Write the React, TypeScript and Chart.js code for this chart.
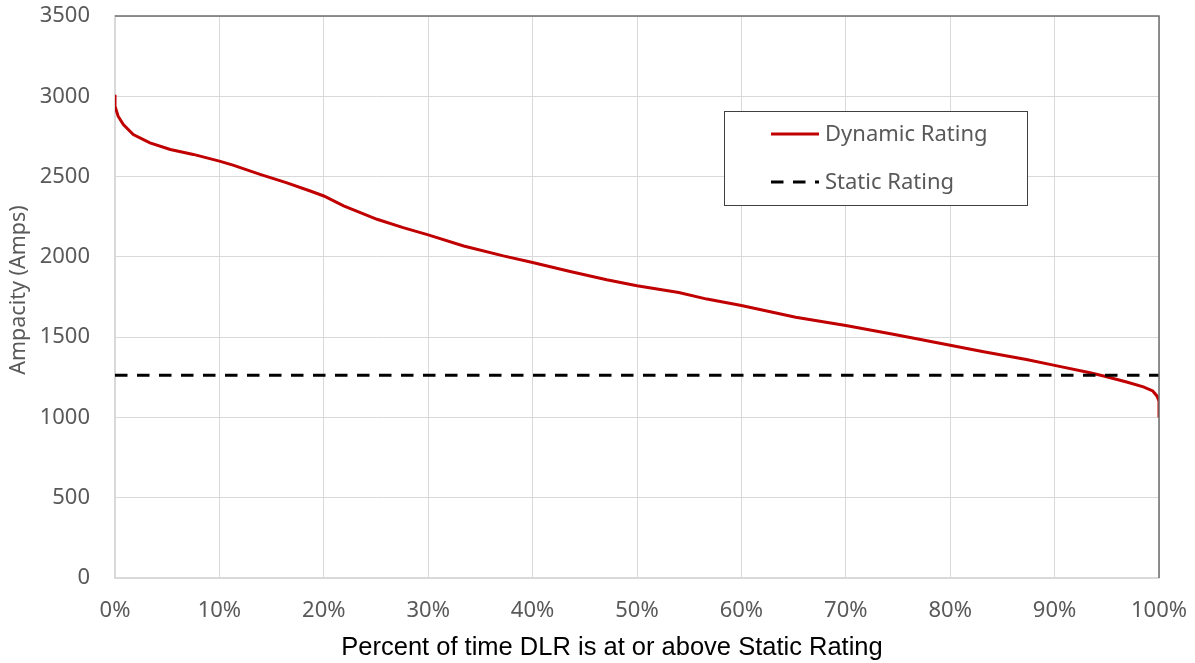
import React, { useEffect, useRef } from "react";
import { Chart, registerables } from "chart.js";

Chart.register(...registerables);

const percentTime = [0, 0, 0.3, 0.8, 1.75, 3.35, 5.3, 7.5, 10, 11.3, 13.9, 16.4, 18.7, 20, 21.9, 25.1, 27.6, 30, 33.4, 37.2, 40, 43.6, 47.1, 50, 54, 56.7, 60, 65.2, 70, 74.8, 80, 83.2, 87.3, 90, 93.4, 94.7, 96.9, 98.5, 99.4, 99.8, 100, 100];
const dynamicAmps = [3010, 2938, 2876, 2824, 2762, 2710, 2669, 2638, 2596, 2571, 2514, 2462, 2410, 2379, 2317, 2234, 2182, 2137, 2068, 2006, 1965, 1909, 1857, 1820, 1778, 1737, 1697, 1624, 1573, 1515, 1450, 1409, 1361, 1324, 1278, 1258, 1221, 1190, 1165, 1134, 1103, 1000];
const staticPercent = [0, 100];
const staticAmps = [1262, 1262];
const seriesNames = ["Dynamic Rating", "Static Rating"];
const xTitle = "Percent of time DLR is at or above Static Rating";
const yTitle = "Ampacity (Amps)";

const RED = "#C00000";
const TICK = "#595959";
const GRID = "#d9d9d9";

const framePlugin = {
  id: "frameAndLegend",
  afterDatasetsDraw(chart: any) {
    const { ctx, chartArea } = chart;
    const { left, right, top, bottom } = chartArea;
    ctx.save();
    // top and right border
    ctx.strokeStyle = "#6e6e6e";
    ctx.lineWidth = 1.5;
    ctx.setLineDash([]);
    ctx.beginPath();
    ctx.moveTo(left, top);
    ctx.lineTo(right, top);
    ctx.lineTo(right, bottom);
    ctx.stroke();

    // legend box
    const bx = 724, by = 111, bw = 303, bh = 94;
    ctx.fillStyle = "#ffffff";
    ctx.fillRect(bx, by, bw, bh);
    ctx.strokeStyle = "#404040";
    ctx.lineWidth = 1;
    ctx.strokeRect(bx + 0.5, by + 0.5, bw, bh);

    const y1 = 134, y2 = 182;
    ctx.lineWidth = 3;
    ctx.strokeStyle = RED;
    ctx.beginPath();
    ctx.moveTo(771, y1);
    ctx.lineTo(819, y1);
    ctx.stroke();

    ctx.strokeStyle = "#000000";
    ctx.setLineDash([12.5, 9.5]);
    ctx.beginPath();
    ctx.moveTo(771, y2);
    ctx.lineTo(819, y2);
    ctx.stroke();
    ctx.setLineDash([]);

    ctx.fillStyle = TICK;
    ctx.font = '22px "Noto Sans"';
    ctx.textBaseline = "middle";
    ctx.textAlign = "left";
    ctx.fillText(seriesNames[0], 825, y1 + 1);
    ctx.fillText(seriesNames[1], 825, y2 + 1);

    // x-axis title
    ctx.fillStyle = "#000000";
    ctx.font = '25.5px "Liberation Sans"';
    ctx.textAlign = "center";
    ctx.fillText(xTitle, 612, 648);

    // y-axis title
    ctx.fillStyle = TICK;
    ctx.font = '21.5px "Noto Sans"';
    ctx.translate(19, 290);
    ctx.rotate(-Math.PI / 2);
    ctx.fillText(yTitle, 0, 0);
    ctx.restore();
  },
};

export default function App() {
  const ref = useRef<HTMLCanvasElement | null>(null);

  useEffect(() => {
    document.body.style.margin = "0";
    const canvas = ref.current;
    if (!canvas) return;
    const chart = new Chart(canvas, {
      type: "line",
      data: {
        datasets: [
          {
            label: seriesNames[0],
            data: percentTime.map((p, i) => ({ x: p, y: dynamicAmps[i] })),
            borderColor: RED,
            backgroundColor: RED,
            borderWidth: 3,
            pointRadius: 0,
            tension: 0,
            order: 2,
          },
          {
            label: seriesNames[1],
            data: staticPercent.map((p, i) => ({ x: p, y: staticAmps[i] })),
            borderColor: "#000000",
            backgroundColor: "#000000",
            borderWidth: 3,
            borderDash: [12.5, 9.5],
            pointRadius: 0,
            order: 1,
          },
        ],
      },
      options: {
        animation: false,
        responsive: false,
        maintainAspectRatio: false,
        layout: { padding: { left: 0, top: 16, right: 36, bottom: 0 } },
        plugins: { legend: { display: false }, tooltip: { enabled: false } },
        scales: {
          x: {
            type: "linear",
            min: 0,
            max: 100,
            ticks: {
              stepSize: 10,
              color: TICK,
              font: { family: "Noto Sans", size: 22 },
              padding: 20,
              maxRotation: 0,
              callback: (v: any) => v + "%",
            },
            grid: { color: GRID, lineWidth: 1, drawTicks: false },
            border: { color: GRID, width: 1.5 },
            title: { display: false },
            afterFit: (s: any) => {
              s.height = 85;
              s.paddingLeft = 0;
              s.paddingRight = 0;
              s.paddingTop = 0;
              s.paddingBottom = 0;
            },
          },
          y: {
            min: 0,
            max: 3500,
            ticks: {
              stepSize: 500,
              color: TICK,
              font: { family: "Noto Sans", size: 22 },
              padding: 25,
              callback: (v: any) => String(v),
            },
            grid: { color: GRID, lineWidth: 1, drawTicks: false },
            border: { color: GRID, width: 1.5 },
            title: { display: false },
            afterFit: (s: any) => {
              s.width = 115;
              s.paddingLeft = 0;
              s.paddingRight = 0;
              s.paddingTop = 0;
              s.paddingBottom = 0;
            },
          },
        },
      },
      plugins: [framePlugin],
    });
    return () => chart.destroy();
  }, []);

  return (
    <div style={{ width: 1195, height: 663, background: "#fff" }}>
      <canvas ref={ref} width={1195} height={663} style={{ display: "block" }} />
    </div>
  );
}
